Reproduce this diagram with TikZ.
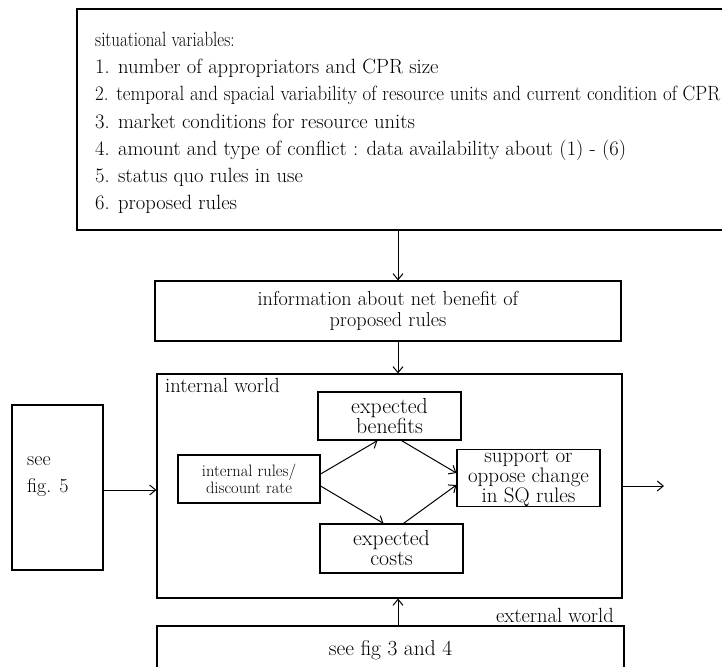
\documentclass[tikz,border=0pt]{standalone}
\usepackage{graphicx}
\usetikzlibrary{arrows.meta}
\usetikzlibrary{positioning}

\tikzset{
  blk/.style={draw, line width=1.2pt, inner sep=0pt, align=center},
  arr/.style={line width=1pt, -{Straight Barb[length=6pt,width=10pt]}},
  lbl/.style={inner sep=0pt, font=\fontsize{20.5}{22}\selectfont},
}

\begin{document}
\begin{tikzpicture}[x=1pt,y=-1pt]
\useasboundingbox (0,0) rectangle (722,666);

\node[blk, minimum width=649pt, minimum height=221pt] (sit) at (401.5,119.5) {};
\node[anchor=west, inner sep=0pt, align=left, font=\fontsize{20.6}{27.2}\selectfont] (sitlist) at (95,123) {\scalebox{0.82}[1]{situational variables:}\\
1. number of appropriators and CPR size\\
\scalebox{0.92}[1]{2. temporal and spacial variability of resource units and current condition of CPR}\\
3. market conditions for resource units\\
4. amount and type of conflict : data availability about (1) - (6)\\
5. status quo rules in use\\
6. proposed rules};

\node[blk, minimum width=466pt, minimum height=60pt, font=\fontsize{20.2}{20.5}\selectfont] (info) at (388,311) {information about net benefit of\\ proposed rules};

\node[blk, minimum width=465pt, minimum height=224pt] (inner) at (389.5,486) {};
\node[lbl, anchor=north west] (innerlbl) at (165,378) {internal world};

\node[blk, minimum width=143pt, minimum height=48pt, font=\fontsize{21.8}{20}\selectfont] (benef) at (389.5,416) {expected\\ benefits};
\node[blk, minimum width=142pt, minimum height=48pt, font=\fontsize{16.5}{17}\selectfont] (rules) at (249,479) {internal rules/\\ discount rate};
\node[blk, minimum width=143pt, minimum height=49pt, font=\fontsize{21.8}{20}\selectfont] (costs) at (391.5,548.5) {expected\\ costs};
\node[blk, minimum width=143pt, minimum height=48pt, font=\fontsize{21}{16.5}\selectfont] (supp) at (528.5,478) {support or\\ oppose change\\ in SQ rules};

\node[blk, minimum width=91pt, minimum height=165pt] (see5) at (57.5,487.5) {};
\node[anchor=west, inner sep=0pt, align=left, font=\fontsize{20}{27}\selectfont] (see5txt) at (27,477) {see\\ fig. 5};

\node[blk, minimum width=467pt, minimum height=48pt, font=\fontsize{21.5}{22}\selectfont] (ext) at (390.5,650) {see fig 3 and 4};
\node[lbl, anchor=south east] (extlbl) at (614,623) {external world};

\coordinate (spine) at (398,0);
\coordinate (out) at (664,486);

\draw[arr] (sit.south -| spine) -- (info.north -| spine);
\draw[arr] (info.south -| spine) -- (inner.north -| spine);
\draw[arr] (ext.north -| spine) -- (inner.south -| spine);
\draw[arr] (see5.east |- 0,490) -- (inner.west |- 0,490);
\draw[arr] (inner.east) -- (out);

\draw[arr] ([yshift=5pt]rules.east) -- ([xshift=-12pt]benef.south);
\draw[arr] ([yshift=-7pt]rules.east) -- ([xshift=-8pt]costs.north);
\draw[arr] ([xshift=12pt]benef.south) -- ([yshift=5pt]supp.west);
\draw[arr] ([xshift=12pt]costs.north) -- ([yshift=-7pt]supp.west);

\end{tikzpicture}
\end{document}
